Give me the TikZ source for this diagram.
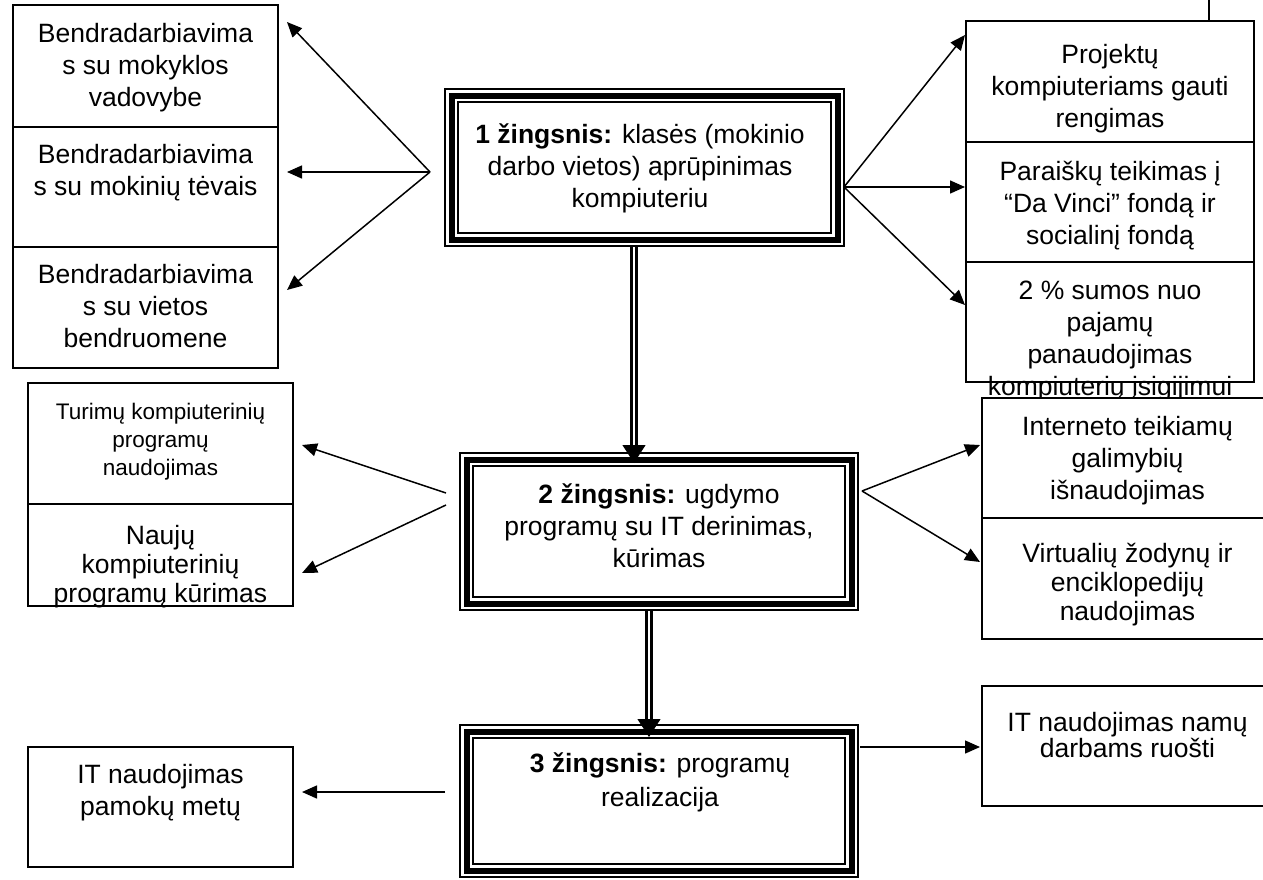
\documentclass[tikz,border=0pt]{standalone}
\usepackage{fontspec}
\setmainfont{Liberation Sans}
\usetikzlibrary{arrows.meta}
\newcommand\tstrut{\rule{0pt}{22pt}}
\begin{document}
\begin{tikzpicture}[x=1pt,y=-1pt,
  boxst/.style={draw, line width=1.6pt, fill=white, inner sep=0pt, outer sep=0pt},
  txt/.style={align=center, inner sep=0pt, anchor=north, font=\fontsize{26.5}{#1}\selectfont},
  txt/.default=32,
  smalltxt/.style={align=center, inner sep=0pt, anchor=north, font=\fontsize{22.5}{28}\selectfont},
  stepbox/.style={inner sep=0pt, outer sep=0pt,
    preaction={draw, line width=15pt},
    preaction={draw=white, line width=11pt},
    draw, line width=6pt},
  arr/.style={line width=1.5pt, -{Triangle[length=15pt,width=13pt]}},
  dbl/.style={double, double distance=2.5pt, line width=2.5pt, shorten >=17pt},
  dbltip/.style={-{Triangle[length=18pt,width=23pt]}, line width=1pt}
]
\useasboundingbox (0,0) rectangle (1263,879);
\fill[white] (0,0) rectangle (1263,879);
\clip (0,0) rectangle (1263,879);

% ---------- left top stack ----------
\node[boxst, minimum width=265pt, minimum height=122pt] (L1) at (145.5,66) {};
\node[boxst, minimum width=265pt, minimum height=120pt] (L2) at (145.5,187) {};
\node[boxst, minimum width=265pt, minimum height=121pt] (L3) at (145.5,307.5) {};
\node[txt] (L1t) at (145.5,20) {\tstrut Bendradarbiavima\\s su mokyklos\\vadovybe};
\node[txt] (L2t) at (145.5,141) {\tstrut Bendradarbiavima\\s su mokinių tėvais};
\node[txt] (L3t) at (145.5,261) {\tstrut Bendradarbiavima\\s su vietos\\bendruomene};

% ---------- step 1 ----------
\node[stepbox, minimum width=386pt, minimum height=144pt] (S1) at (644.5,167.5) {};
\node[txt] (S1t) at (640,121) {\tstrut\textbf{1 žingsnis:} klasės (mokinio\\darbo vietos) aprūpinimas\\kompiuteriu};

% ---------- right top stack ----------
\node[boxst, minimum width=288pt, minimum height=121pt] (R1) at (1110,81.5) {};
\node[boxst, minimum width=288pt, minimum height=120pt] (R2) at (1110,202) {};
\node[boxst, minimum width=288pt, minimum height=120pt] (R3) at (1110,322) {};
\node[txt] (R1t) at (1110,41) {\tstrut Projektų\\kompiuteriams gauti\\rengimas};
\node[txt] (R2t) at (1110,158) {\tstrut Paraiškų teikimas į\\“Da Vinci” fondą ir\\socialinį fondą};
\node[txt] (R3t) at (1110,277) {\tstrut 2 \% sumos nuo\\pajamų\\panaudojimas\\kompiuterių įsigijimui};
\coordinate (topedge) at (1209,0);
\draw[line width=1.6pt] (topedge) -- (topedge |- R1.north);

% ---------- left middle stack ----------
\node[boxst, minimum width=265pt, minimum height=121pt] (LM1) at (160.5,443.5) {};
\node[boxst, minimum width=265pt, minimum height=102pt] (LM2) at (160.5,555) {};
\node[smalltxt] (LM1t) at (160.5,397) {\tstrut Turimų kompiuterinių\\programų\\naudojimas};
\node[txt=29] (LM2t) at (160.5,522) {\tstrut Naujų\\kompiuterinių\\programų kūrimas};

% ---------- right middle stack ----------
\node[boxst, minimum width=291pt, minimum height=120pt] (RM1) at (1127.5,458) {};
\node[boxst, minimum width=291pt, minimum height=121pt] (RM2) at (1127.5,578.5) {};
\node[txt] (RM1t) at (1127.5,413) {\tstrut Interneto teikiamų\\galimybių\\išnaudojimas};
\node[txt=29] (RM2t) at (1127.5,540) {\tstrut Virtualių žodynų ir\\enciklopedijų\\naudojimas};

% ---------- step 2 ----------
\node[stepbox, minimum width=385pt, minimum height=144pt] (S2) at (659,531.5) {};
\node[txt] (S2t) at (659,481) {\tstrut\textbf{2 žingsnis:} ugdymo\\programų su IT derinimas,\\kūrimas};

% ---------- step 3 ----------
\node[stepbox, minimum width=385pt, minimum height=139pt] (S3) at (659,801) {};
\node[txt=34] (S3t) at (660,750) {\tstrut\textbf{3 žingsnis:} programų\\realizacija};

% ---------- bottom boxes ----------
\node[boxst, minimum width=265pt, minimum height=120pt] (BL) at (160.5,807) {};
\node[txt] (BLt) at (160.5,761) {\tstrut IT naudojimas\\pamokų metų};
\node[boxst, minimum width=291pt, minimum height=120pt] (BR) at (1127.5,746) {};
\node[txt=26] (BRt) at (1127.5,709) {\tstrut IT naudojimas namų\\darbams ruošti};

% ---------- connectors ----------
\coordinate (o1) at (430,172);
\coordinate (t11) at (287,22);
\coordinate (t12) at (287,172);
\coordinate (t13) at (287,290);
\draw[arr] (o1) -- (t11);
\draw[arr] (o1) -- (t12);
\draw[arr] (o1) -- (t13);

\coordinate (o2) at (844,187);
\coordinate (t21) at (965,35);
\coordinate (t22) at (965,187);
\coordinate (t23) at (965,305);
\draw[arr] (o2) -- (t21);
\draw[arr] (o2) -- (t22);
\draw[arr] (o2) -- (t23);

\coordinate (o3a) at (446,493);
\coordinate (o3b) at (446,505);
\coordinate (t31) at (302,445);
\coordinate (t32) at (302,573);
\draw[arr] (o3a) -- (t31);
\draw[arr] (o3b) -- (t32);

\coordinate (o4) at (862,491);
\coordinate (t41) at (980,445);
\coordinate (t42) at (980,562);
\draw[arr] (o4) -- (t41);
\draw[arr] (o4) -- (t42);

\coordinate (o5) at (445,792);
\coordinate (t5) at (302,792);
\draw[arr] (o5) -- (t5);

\coordinate (o6) at (860,747);
\coordinate (t6) at (980,747);
\draw[arr] (o6) -- (t6);

% double arrows between steps
\coordinate (d1a) at (634,247);
\coordinate (d1b) at (634,463);
\draw[dbl] (d1a) -- (d1b);
\draw[dbltip] ([yshift=18pt]d1b) -- (d1b);

\coordinate (d2a) at (649,611);
\coordinate (d2b) at (649,737);
\draw[dbl] (d2a) -- (d2b);
\draw[dbltip] ([yshift=18pt]d2b) -- (d2b);
\end{tikzpicture}
\end{document}
